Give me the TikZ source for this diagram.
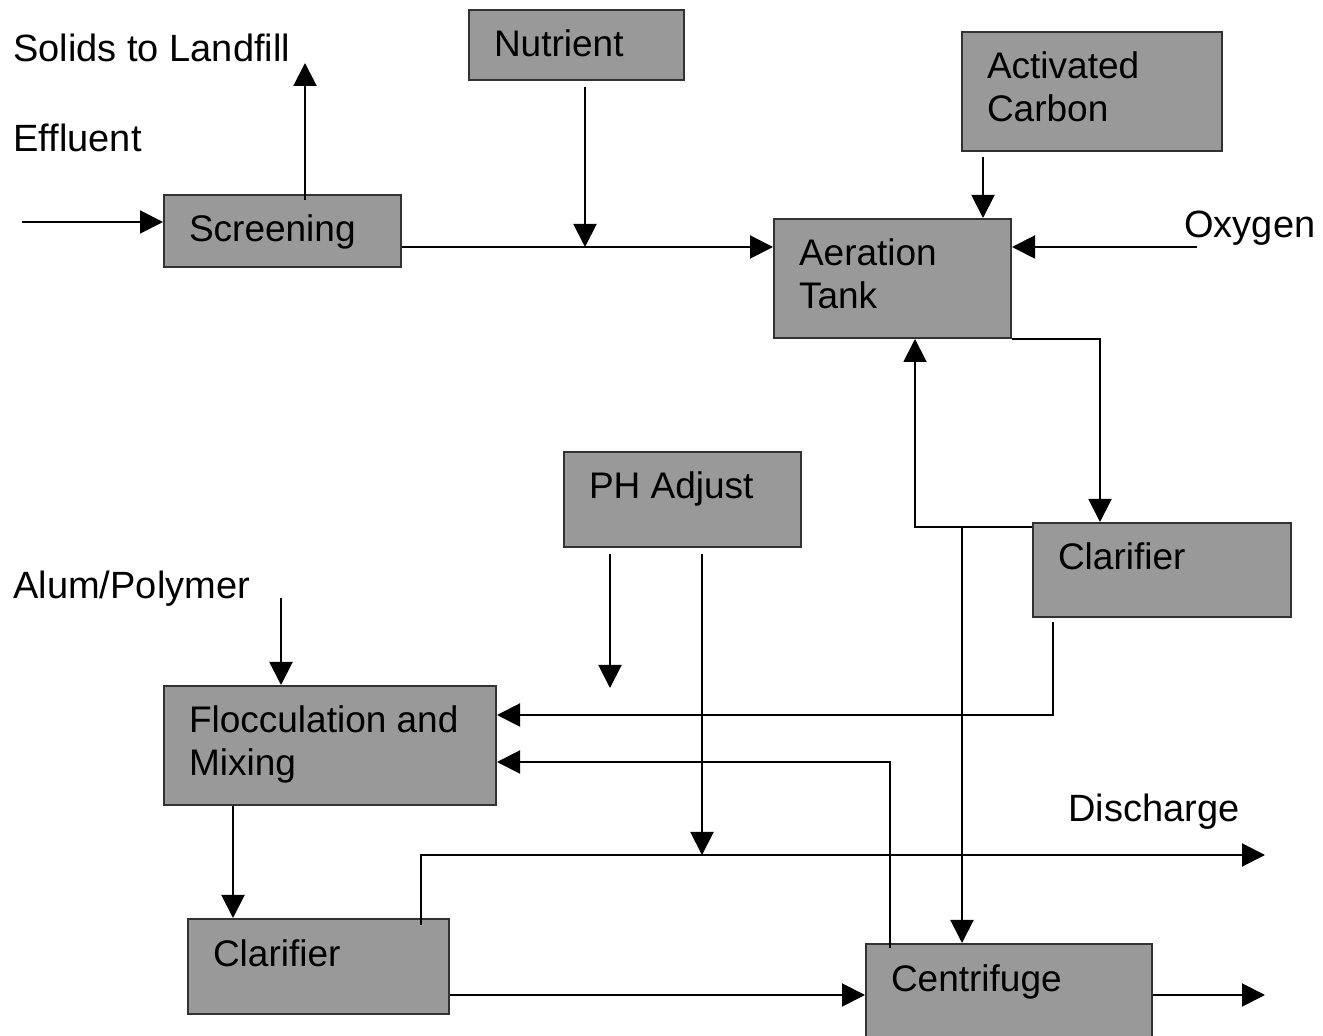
\documentclass[tikz,border=0pt]{standalone}
\usepackage{fontspec}
\setmainfont{Liberation Sans}
\usetikzlibrary{arrows.meta}
\definecolor{boxgray}{RGB}{153,153,153}
\definecolor{edgegray}{RGB}{50,50,50}
\newcommand{\bxt}[3]{\parbox[t][#2][t]{#1}{\leftskip=12.5pt\rightskip=0pt plus 1fil\parindent=0pt\rule{0pt}{23.5pt}#3}}
\tikzset{
  box/.style={draw=edgegray, line width=1pt, fill=boxgray, anchor=north west, inner sep=0pt,
    font=\fontsize{18.5}{21.5}\selectfont},
  lbl/.style={anchor=base west, inner sep=0pt, font=\fontsize{19}{21.5}\selectfont},
  arr/.style={draw=black, line width=1pt, -{Triangle[length=11.5pt,width=11.5pt]}},
  ln/.style={draw=black, line width=1pt}
}
\begin{document}
\begin{tikzpicture}[x=0.5pt,y=-0.5pt]
\clip (0,0) rectangle (1323,1036);
\fill[white] (0,0) rectangle (1323,1036);
% boxes
\node[box] (scr) at (163,194) {\bxt{118.5pt}{36pt}{Screening}};
\node[box] (nut) at (468,9) {\bxt{107.5pt}{35pt}{Nutrient}};
\node[box] (ac) at (961,31) {\bxt{130pt}{59.5pt}{Activated\\Carbon}};
\node[box] (aer) at (773,218) {\bxt{118.5pt}{59.5pt}{Aeration\\Tank}};
\node[box] (ph) at (563,451) {\bxt{118.5pt}{47.5pt}{PH Adjust}};
\node[box] (clarR) at (1032,522) {\bxt{129pt}{47pt}{Clarifier}};
\node[box] (floc) at (163,685) {\bxt{166pt}{59.5pt}{Flocculation and\\Mixing}};
\node[box] (clarL) at (187,918) {\bxt{130.5pt}{47.5pt}{Clarifier}};
\node[box] (cen) at (865,943) {\bxt{143pt}{50pt}{Centrifuge}};
% free labels
\node[lbl] (tsol) at (13,62) {Solids to Landfill};
\node[lbl] (teff) at (13,152) {Effluent};
\node[lbl] (toxy) at (1184,238) {Oxygen};
\node[lbl] (talum) at (13,599) {Alum/Polymer};
\node[lbl] (tdis) at (1068,822) {Discharge};
% helper coordinates
\coordinate (effin) at (22,222);
\coordinate (solids) at (305,63);
\coordinate (y247) at (0,247);
\coordinate (x585) at (585,0);
\coordinate (x983) at (983,0);
\coordinate (oxy) at (1197,247);
\coordinate (x1100) at (1100,0);
\coordinate (y527) at (0,527);
\coordinate (x915) at (915,0);
\coordinate (x962) at (962,0);
\coordinate (x610) at (610,0);
\coordinate (phend) at (610,688);
\coordinate (x702) at (702,0);
\coordinate (y855) at (0,855);
\coordinate (x1053) at (1053,0);
\coordinate (y715) at (0,715);
\coordinate (x890) at (890,0);
\coordinate (y762) at (0,762);
\coordinate (alum) at (281,598);
\coordinate (x233) at (233,0);
\coordinate (x421) at (421,0);
\coordinate (disch) at (1265,855);
\coordinate (y995) at (0,995);
\coordinate (out) at (1265,995);
% connectors
\draw[arr] (effin) -- (effin -| scr.west);
\draw[arr] ([yshift=-3pt]solids |- scr.north) -- (solids);
\draw[arr] (scr.east |- y247) -- (aer.west |- y247);
\draw[arr, shorten <=3pt] (x585 |- nut.south) -- (x585 |- y247);
\draw[arr, shorten <=2.5pt] (x983 |- ac.south) -- (x983 |- aer.north);
\draw[arr] (oxy) -- (aer.east |- oxy);
\draw[arr] (aer.south east) -| (x1100 |- clarR.north);
\draw[arr] (clarR.west |- y527) -| (x915 |- aer.south);
\draw[arr] (x962 |- y527) -- (x962 |- cen.north);
\draw[arr, shorten <=3pt] (x610 |- ph.south) -- (phend);
\draw[arr, shorten <=3pt] (x702 |- ph.south) -- (x702 |- y855);
\draw[arr, shorten <=2pt] (x1053 |- clarR.south) |- (floc.east |- y715);
\draw[arr] ([yshift=-2.5pt]x890 |- cen.north) |- (floc.east |- y762);
\draw[arr] (alum) -- (alum |- floc.north);
\draw[arr] (x233 |- floc.south) -- (x233 |- clarL.north);
\draw[arr] ([yshift=-3.5pt]x421 |- clarL.north) |- (disch);
\draw[arr] (clarL.east |- y995) -- (cen.west |- y995);
\draw[arr] (cen.east |- y995) -- (out);
\end{tikzpicture}
\end{document}
